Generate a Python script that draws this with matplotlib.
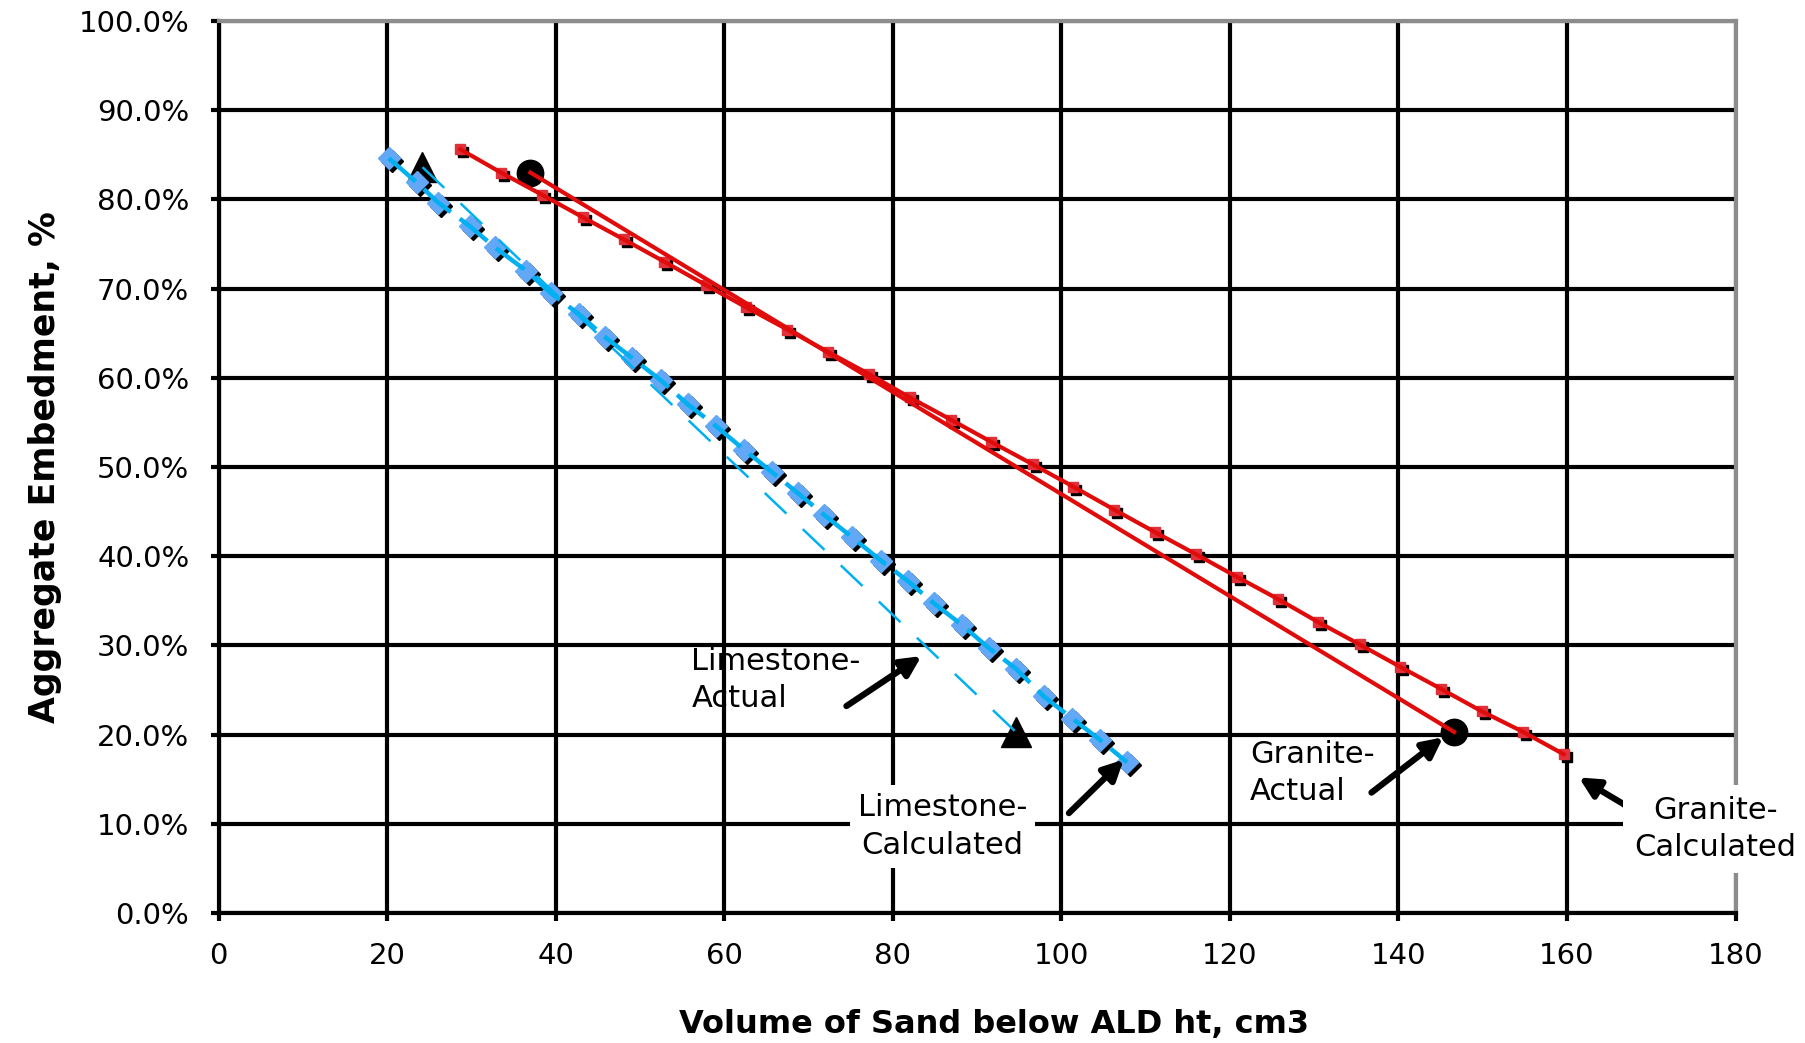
import matplotlib
matplotlib.use("Agg")
import matplotlib.pyplot as plt
import matplotlib.transforms as mtransforms
from matplotlib.ticker import PercentFormatter

# Limestone - calculated (blue diamonds)
lime_calc_x = [20.2, 23.5, 26.1, 29.8, 32.8, 36.5, 39.4, 42.8, 45.8, 49.1, 52.5, 55.7, 59.0, 62.4,
               65.7, 68.7, 71.9, 75.2, 78.6, 81.8, 84.9, 88.2, 91.4, 94.6, 97.9, 101.3, 104.6, 107.8]
lime_calc_y = [84.6, 81.9, 79.6, 77.0, 74.6, 72.0, 69.5, 67.1, 64.6, 62.2, 59.7, 57.0, 54.6, 51.9,
               49.4, 47.1, 44.6, 42.1, 39.5, 37.2, 34.7, 32.3, 29.7, 27.4, 24.3, 21.8, 19.4, 16.9]
# Limestone - actual (black triangles)
lime_act_x = [24.2, 94.6]
lime_act_y = [83.6, 20.3]
# Granite - calculated (red squares)
gran_calc_x = [28.7, 33.5, 38.4, 43.2, 48.1, 52.9, 57.8, 62.6, 67.5, 72.3, 77.2, 82.0, 86.9, 91.7,
               96.6, 101.4, 106.3, 111.1, 116.0, 120.8, 125.7, 130.5, 135.4, 140.2, 145.1, 149.9, 154.8, 159.6]
gran_calc_y = [85.6, 83.0, 80.5, 78.0, 75.5, 73.0, 70.4, 67.9, 65.4, 62.9, 60.4, 57.8, 55.3, 52.8,
               50.3, 47.8, 45.2, 42.7, 40.2, 37.7, 35.2, 32.6, 30.1, 27.6, 25.1, 22.6, 20.3, 17.8]
# Granite - actual (black circles)
gran_act_x = [37.0, 146.6]
gran_act_y = [83.0, 20.3]

fig = plt.figure(figsize=(18.06, 10.43), dpi=100)
ax = fig.add_axes([0.121, 0.1246, 0.840, 0.8554])

shadow = mtransforms.offset_copy(ax.transData, fig=fig, x=3, y=-3, units='dots')

# limestone calculated
ax.plot(lime_calc_x, lime_calc_y, 'D', color='black', ms=11, transform=shadow, zorder=3)
ax.plot(lime_calc_x, lime_calc_y, 'D', color='#62a8f6', ms=11, zorder=4)
ax.plot(lime_calc_x, lime_calc_y, '-', color='#00b0f0', lw=3.2, dashes=(8, 2.5), zorder=5)

# limestone actual
ax.plot(lime_act_x, lime_act_y, '^', color='black', ms=21, zorder=3)
ax.plot(lime_act_x, lime_act_y, '-', color='#00b0f0', lw=1.8, dashes=(12, 9), zorder=5)

# granite calculated
ax.plot(gran_calc_x, gran_calc_y, 's', color='black', ms=7.5, transform=shadow, zorder=3)
ax.plot(gran_calc_x, gran_calc_y, 's', color='#e0303a', ms=7.5, zorder=4)
ax.plot(gran_calc_x, gran_calc_y, '-', color='#e00b0b', lw=3, zorder=5)

# granite actual
ax.plot(gran_act_x, gran_act_y, 'o', color='black', ms=19, zorder=3)
ax.plot(gran_act_x, gran_act_y, '-', color='#e00b0b', lw=3, zorder=5)

ax.set_xlim(0, 180)
ax.set_ylim(0, 100)
ax.set_xticks(range(0, 181, 20))
ax.set_yticks(range(0, 101, 10))
ax.yaxis.set_major_formatter(PercentFormatter(decimals=1))
ax.grid(True, color='black', lw=3)
ax.set_axisbelow(True)
ax.tick_params(labelsize=21, width=3, length=6, pad=15, colors='black')
for s in ['left', 'bottom']:
    ax.spines[s].set_linewidth(3)
for s in ['top', 'right']:
    ax.spines[s].set_linewidth(3)
    ax.spines[s].set_color('#8c8c8c')

ax.set_xlabel('Volume of Sand below ALD ht, cm3', fontsize=23, fontweight='bold')
ax.xaxis.set_label_coords(0.511, -0.108)
ax.set_ylabel('Aggregate Embedment, %', fontsize=25, fontweight='bold', labelpad=12)

arrow = dict(arrowstyle='-|>', lw=4.5, color='black', mutation_scale=30, shrinkA=0, shrinkB=0)
ax.annotate('', xy=(83.4, 28.8), xytext=(74.5, 23.2), arrowprops=arrow, zorder=6)
ax.annotate('', xy=(107.4, 17.2), xytext=(100.9, 11.2), arrowprops=arrow, zorder=6)
ax.annotate('', xy=(145.3, 19.7), xytext=(136.8, 13.5), arrowprops=arrow, zorder=6)
ax.annotate('', xy=(161.4, 15.2), xytext=(168.5, 11.2), arrowprops=arrow, zorder=6)

ax.text(56.1, 26.1, 'Limestone-\nActual', fontsize=22, ha='left', va='center', linespacing=1.35, zorder=7)
ax.text(85.9, 9.7, 'Limestone-\nCalculated', fontsize=22, ha='center', va='center', linespacing=1.35,
        zorder=7, bbox=dict(facecolor='white', edgecolor='none', pad=6))
ax.text(122.4, 15.7, 'Granite-\nActual', fontsize=22, ha='left', va='center', linespacing=1.35, zorder=7)
ax.text(177.6, 9.4, 'Granite-\nCalculated', fontsize=22, ha='center', va='center', linespacing=1.35,
        zorder=7, clip_on=False, bbox=dict(facecolor='white', edgecolor='none', pad=8))

fig.savefig('out.png', dpi=100)
